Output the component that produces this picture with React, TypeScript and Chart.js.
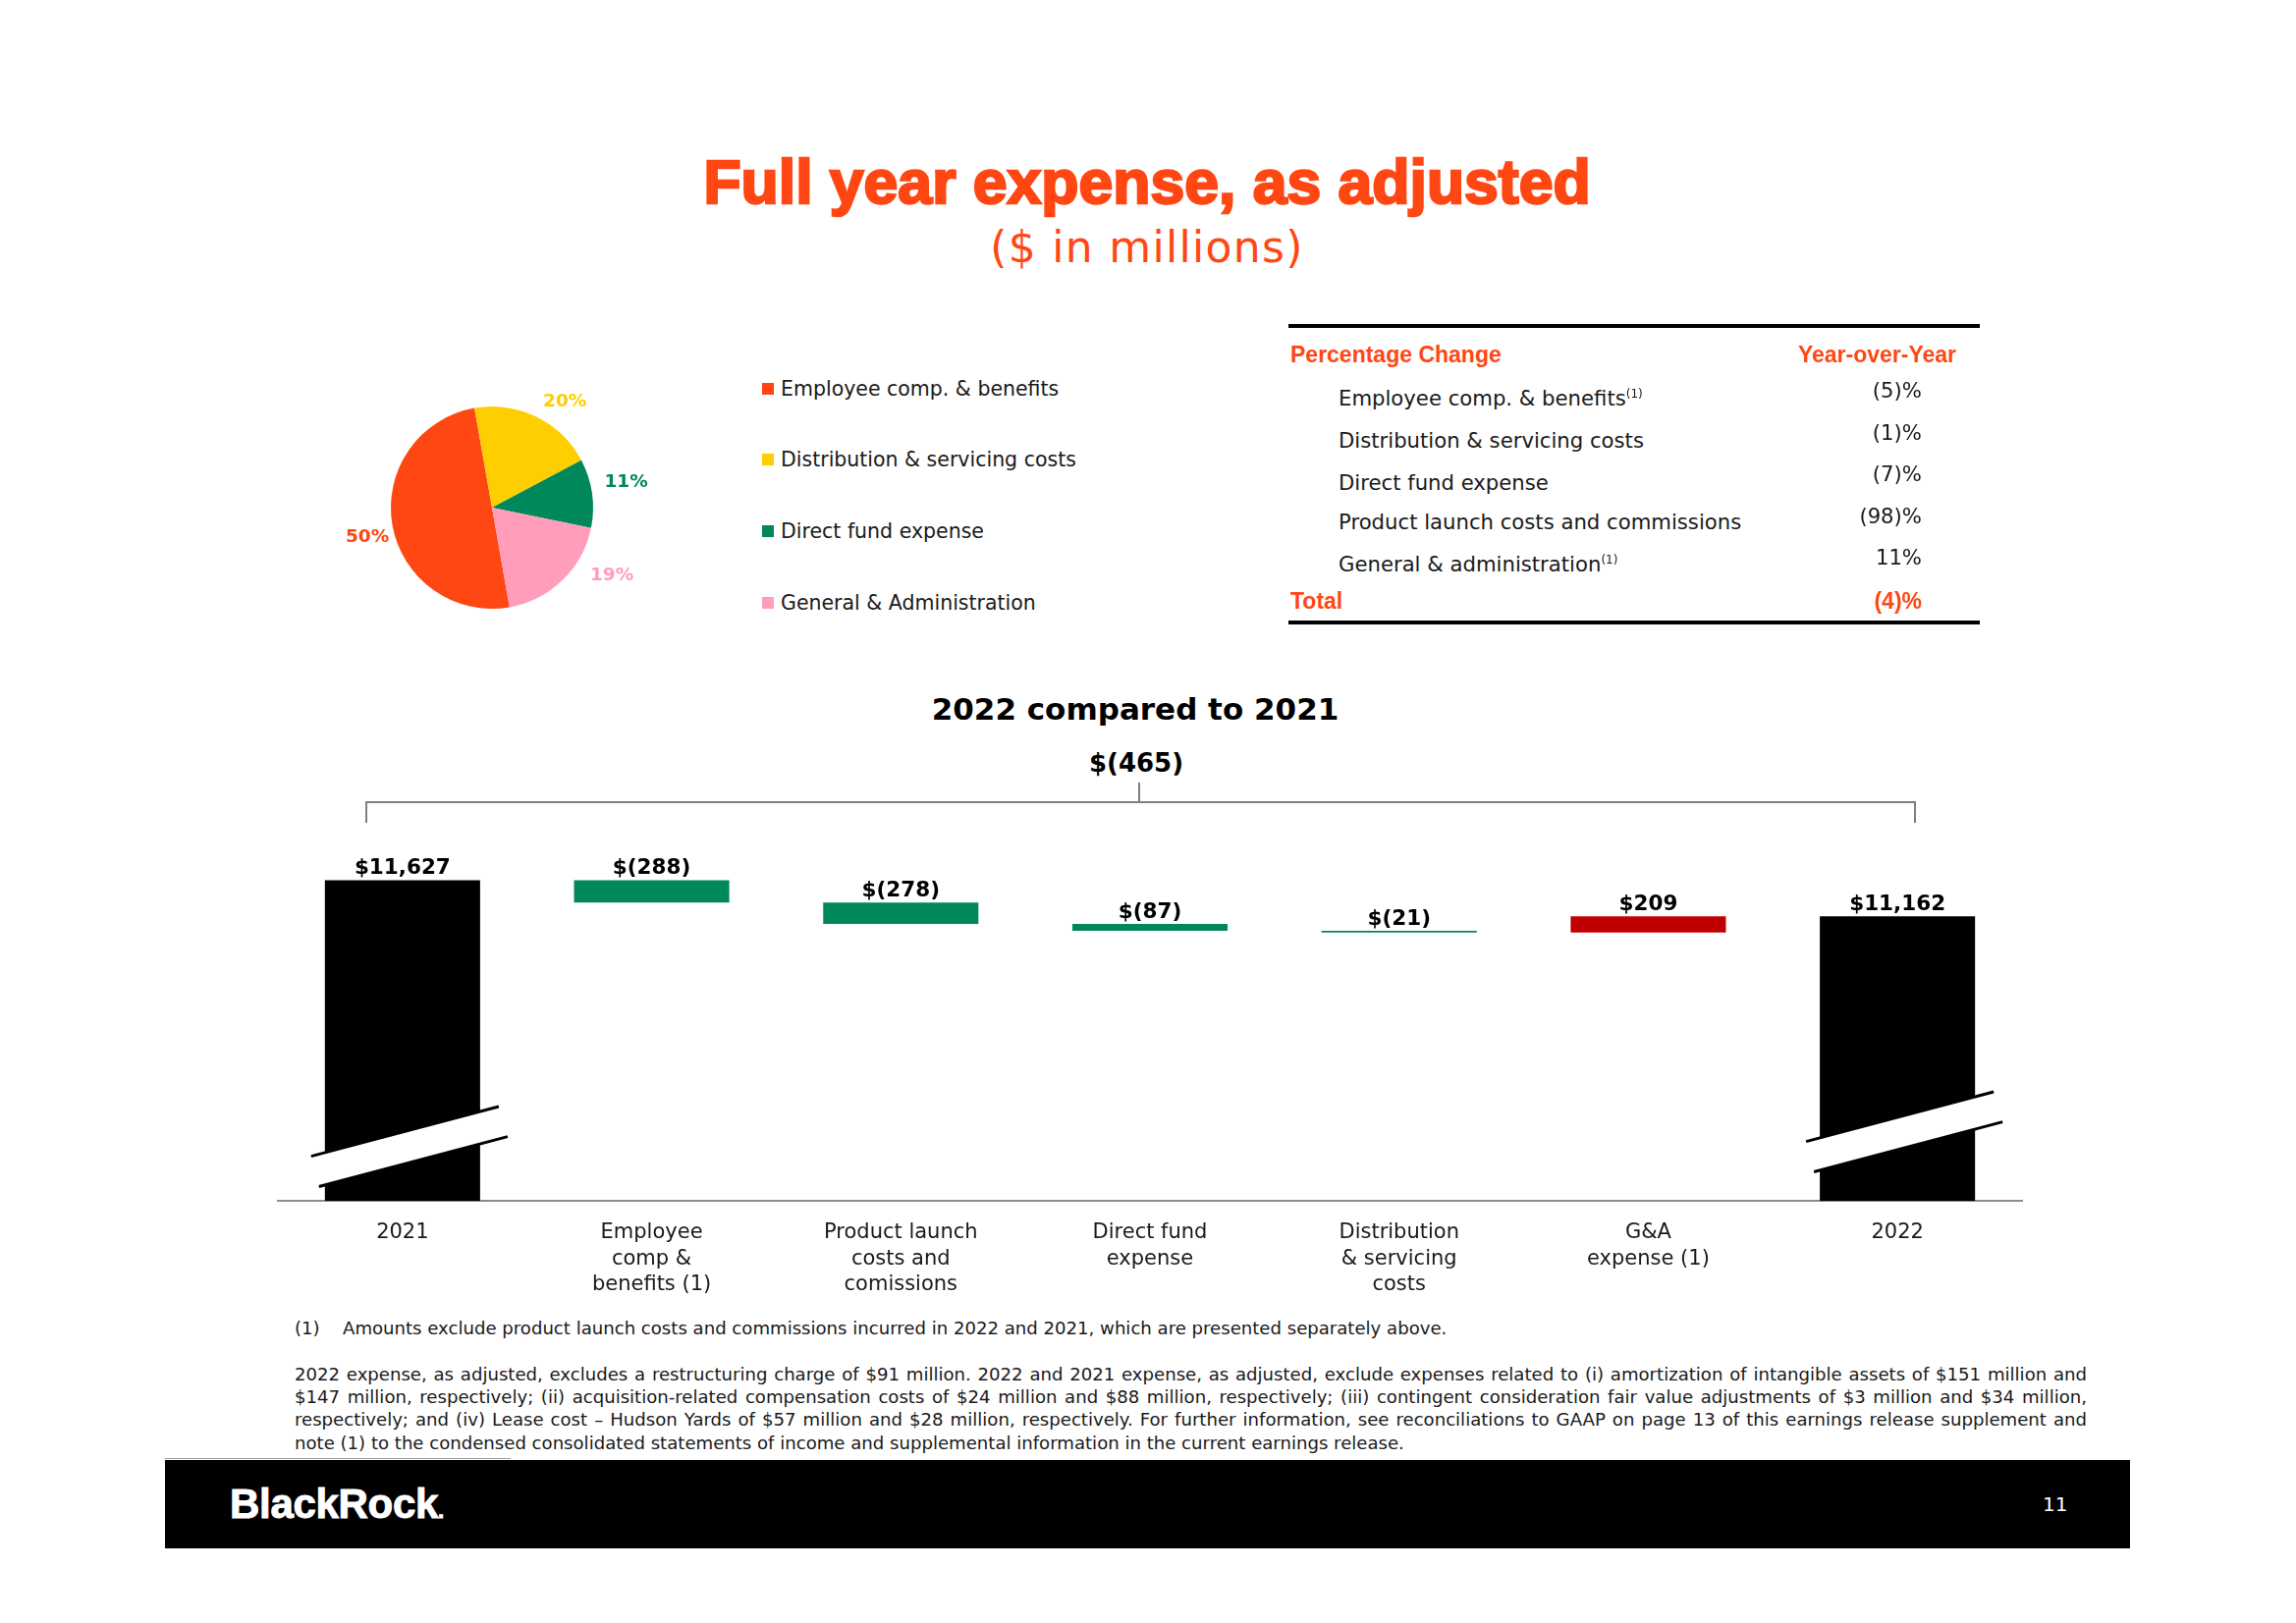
import React, { useEffect, useRef } from "react";
import { Chart, registerables } from "chart.js";

Chart.register(...registerables);

// ---------- data ----------
const ORANGE = "#FF4713";
const GREEN = "#00875A";
const RED = "#C00000";

const PIE_LABELS = [
  "Employee comp. & benefits",
  "Distribution & servicing costs",
  "Direct fund expense",
  "General & Administration",
];
const PIE_VALUES = [50, 20, 11, 19];
const PIE_COLORS = [ORANGE, "#FFCE00", GREEN, "#FF9DBA"];

const TABLE_ITEMS = [
  "Employee comp. & benefits",
  "Distribution & servicing costs",
  "Direct fund expense",
  "Product launch costs and commissions",
  "General & administration",
];
const TABLE_NOTES = [true, false, false, false, true];
const TABLE_VALUES = ["(5)%", "(1)%", "(7)%", "(98)%", "11%"];
const TABLE_TOTAL = "(4)%";

const WF_CATEGORIES: (string | string[])[] = [
  "2021",
  ["Employee", "comp &", "benefits (1)"],
  ["Product launch", "costs and", "comissions"],
  ["Direct fund", "expense"],
  ["Distribution", "& servicing", "costs"],
  ["G&A", "expense (1)"],
  "2022",
];
const WF_START = 11627;
const WF_CHANGES = [-288, -278, -87, -21, 209];
const WF_END = 11162;
const WF_NET = "$(465)";
const Y_MIN = 7490;
const Y_MAX = 12000;

const FOOTNOTE_1 =
  "Amounts exclude product launch costs and commissions incurred in 2022 and 2021, which are presented separately above.";
const FOOTNOTE_LINES = [
  "2022 expense, as adjusted, excludes a restructuring charge of $91 million. 2022 and 2021 expense, as adjusted, exclude expenses related to (i) amortization of intangible assets of $151 million and",
  "$147 million, respectively; (ii) acquisition-related compensation costs of $24 million and $88 million, respectively; (iii) contingent consideration fair value adjustments of $3 million and $34 million,",
  "respectively; and (iv) Lease cost \u2013 Hudson Yards of $57 million and $28 million, respectively. For further information, see reconciliations to GAAP on page 13 of this earnings release supplement and",
  "note (1) to the condensed consolidated statements of income and supplemental information in the current earnings release.",
];

// ---------- helpers ----------
const BODY = '"DejaVu Sans", sans-serif';
const ARIAL = '"Liberation Sans", Arial, sans-serif';
const FOOT_SIZE = 18.1;
const FOOT_WIDTH = 1825;

const fmt = (v: number) =>
  v < 0 ? `$(${Math.abs(v).toLocaleString("en-US")})` : `$${v.toLocaleString("en-US")}`;

let measureCtx: CanvasRenderingContext2D | null = null;
function textWidth(text: string, font: string) {
  if (!measureCtx) measureCtx = document.createElement("canvas").getContext("2d");
  if (!measureCtx) return 0;
  measureCtx.font = font;
  return measureCtx.measureText(text).width;
}

type TProps = {
  x: number;
  y: number;
  size: number;
  children: React.ReactNode;
  family?: string;
  weight?: number | string;
  color?: string;
  align?: "left" | "right" | "center";
  extra?: React.CSSProperties;
};
function T({ x, y, size, children, family = BODY, weight = 400, color = "#1a1a1a", align = "left", extra }: TProps) {
  const style: React.CSSProperties = {
    position: "absolute",
    top: y - 0.485 * size,
    fontFamily: family,
    fontWeight: weight as any,
    fontSize: size,
    lineHeight: `${size}px`,
    color,
    whiteSpace: "nowrap",
    ...extra,
  };
  if (align === "left") style.left = x;
  else if (align === "right") {
    style.left = x - 2000;
    style.width = 2000;
    style.textAlign = "right";
  } else {
    style.left = x - 1000;
    style.width = 2000;
    style.textAlign = "center";
  }
  return <div style={style}>{children}</div>;
}

// ---------- pie ----------
const PIE_LABEL_NUDGE = [
  [6, 7],
  [15, 14],
  [3, -7],
  [28, -28],
];

function PieChart() {
  const ref = useRef<HTMLCanvasElement>(null);
  useEffect(() => {
    const labelPlugin = {
      id: "pieLabels",
      afterDatasetsDraw(chart: any) {
        const ctx = chart.ctx;
        const meta = chart.getDatasetMeta(0);
        ctx.save();
        ctx.font = `bold 18.5px ${BODY}`;
        ctx.textAlign = "center";
        ctx.textBaseline = "middle";
        meta.data.forEach((arc: any, i: number) => {
          const p = arc.getProps(["x", "y", "startAngle", "endAngle", "outerRadius"], true);
          const mid = (p.startAngle + p.endAngle) / 2;
          const r = p.outerRadius + 32;
          ctx.fillStyle = PIE_COLORS[i];
          ctx.fillText(
            `${PIE_VALUES[i]}%`,
            p.x + Math.cos(mid) * r + PIE_LABEL_NUDGE[i][0],
            p.y + Math.sin(mid) * r + PIE_LABEL_NUDGE[i][1]
          );
        });
        ctx.restore();
      },
    };
    const chart = new Chart(ref.current!, {
      type: "pie",
      data: {
        labels: PIE_LABELS,
        datasets: [{ data: PIE_VALUES, backgroundColor: PIE_COLORS, borderWidth: 0 }],
      },
      options: {
        responsive: false,
        animation: false,
        rotation: 170,
        layout: { padding: { left: 97, right: 97, top: 47, bottom: 47 } },
        plugins: { legend: { display: false }, tooltip: { enabled: false } },
      },
      plugins: [labelPlugin],
    } as any);
    return () => chart.destroy();
  }, []);
  return (
    <canvas
      ref={ref}
      width={400}
      height={300}
      style={{ position: "absolute", left: 301, top: 367, width: 400, height: 300 }}
    />
  );
}

// ---------- waterfall ----------
function Waterfall() {
  const ref = useRef<HTMLCanvasElement>(null);
  useEffect(() => {
    const ranges: [number, number][] = [[Y_MIN, WF_START]];
    let run = WF_START;
    const colors: string[] = ["#000000"];
    for (const c of WF_CHANGES) {
      const next = run + c;
      ranges.push([Math.min(run, next), Math.max(run, next)]);
      colors.push(c < 0 ? GREEN : RED);
      run = next;
    }
    ranges.push([Y_MIN, WF_END]);
    colors.push("#000000");
    const labels = [WF_START, ...WF_CHANGES, WF_END].map(fmt);

    const valuePlugin = {
      id: "values",
      afterDatasetsDraw(chart: any) {
        const ctx = chart.ctx;
        const meta = chart.getDatasetMeta(0);
        ctx.save();
        ctx.font = `bold 21.5px ${BODY}`;
        ctx.textAlign = "center";
        ctx.textBaseline = "alphabetic";
        ctx.fillStyle = "#000";
        meta.data.forEach((bar: any, i: number) => {
          const p = bar.getProps(["x", "y", "base"], true);
          ctx.fillText(labels[i], p.x, Math.min(p.y, p.base) - 6);
        });
        ctx.restore();
      },
    };

    const breakPlugin = {
      id: "axisBreak",
      afterDatasetsDraw(chart: any) {
        const ctx = chart.ctx;
        const meta = chart.getDatasetMeta(0);
        const axisY = chart.chartArea.bottom;
        const idx = [0, meta.data.length - 1];
        const heights = [70, 85];
        const slope = 0.265;
        const gap = 33;
        ctx.save();
        idx.forEach((i, k) => {
          const p = meta.data[i].getProps(["x", "width"], true);
          const L = p.x - p.width / 2;
          const R = p.x + p.width / 2;
          const yc = axisY - heights[k];
          const yU = (x: number) => yc - slope * (x - p.x);
          const yL = (x: number) => yc + gap - slope * (x - p.x);
          const u1 = L - 14, u2 = R + 19, l1 = L - 6, l2 = R + 28;
          ctx.fillStyle = "#ffffff";
          ctx.beginPath();
          ctx.moveTo(u1, yU(u1));
          ctx.lineTo(u2, yU(u2));
          ctx.lineTo(l2, yL(l2));
          ctx.lineTo(l1, yL(l1));
          ctx.closePath();
          ctx.fill();
          ctx.strokeStyle = "#000";
          ctx.lineWidth = 3;
          ctx.beginPath();
          ctx.moveTo(u1, yU(u1));
          ctx.lineTo(u2, yU(u2));
          ctx.moveTo(l1, yL(l1));
          ctx.lineTo(l2, yL(l2));
          ctx.stroke();
        });
        ctx.restore();
      },
    };

    const chart = new Chart(ref.current!, {
      type: "bar",
      data: {
        labels: WF_CATEGORIES,
        datasets: [
          {
            data: ranges,
            backgroundColor: colors,
            borderWidth: 0,
            barPercentage: 0.623,
            categoryPercentage: 1,
          },
        ],
      },
      options: {
        responsive: false,
        animation: false,
        layout: { padding: { left: 20, right: 20, top: 47, bottom: 0 } },
        plugins: { legend: { display: false }, tooltip: { enabled: false } },
        scales: {
          x: {
            grid: { display: false, drawTicks: false },
            border: { display: true, color: "#8c8c8c", width: 2 },
            ticks: {
              color: "#1a1a1a",
              font: { family: "DejaVu Sans", size: 21, lineHeight: 1.24 },
              padding: 20,
              autoSkip: false,
              maxRotation: 0,
              minRotation: 0,
            },
            afterFit: (s: any) => {
              s.height = 110;
            },
          },
          y: { display: false, min: Y_MIN, max: Y_MAX },
        },
      },
      plugins: [valuePlugin, breakPlugin],
    } as any);
    return () => chart.destroy();
  }, []);
  return (
    <canvas
      ref={ref}
      width={1816}
      height={513}
      style={{ position: "absolute", left: 263, top: 820, width: 1816, height: 513 }}
    />
  );
}

// ---------- page ----------
export default function App() {
  useEffect(() => {
    document.body.style.margin = "0";
  }, []);
  const legendBaselines = [403, 475, 548, 621];
  const rowCenters = [405, 448, 491, 531, 574];
  const valCenters = [397, 440, 482, 525, 567];
  const footY = [1400, 1423, 1446, 1470];
  const footFont = `${FOOT_SIZE}px "DejaVu Sans"`;
  return (
    <div
      style={{
        position: "absolute",
        left: 0,
        top: 0,
        width: 2338,
        height: 1653,
        background: "#fff",
        overflow: "hidden",
      }}
    >
      {/* titles */}
      <T x={1168} y={184.5} size={62.5} family={ARIAL} weight={700} color={ORANGE} align="center"
        extra={{ WebkitTextStroke: `2.5px ${ORANGE}` } as any}>
        Full year expense, as adjusted
      </T>
      <T x={1168} y={251} size={44} weight={400} color={ORANGE} align="center" extra={{ letterSpacing: 1.3 }}>
        ($ in millions)
      </T>

      {/* pie + legend */}
      <PieChart />
      {PIE_LABELS.map((l, i) => (
        <React.Fragment key={l}>
          <div
            style={{
              position: "absolute",
              left: 776,
              top: legendBaselines[i] - 13,
              width: 12,
              height: 12,
              background: PIE_COLORS[i],
            }}
          />
          <T x={795} y={legendBaselines[i] - 7.4} size={20.5}>
            {l}
          </T>
        </React.Fragment>
      ))}

      {/* table */}
      <div style={{ position: "absolute", left: 1312, top: 330, width: 704, height: 4, background: "#000" }} />
      <div style={{ position: "absolute", left: 1312, top: 632, width: 704, height: 4, background: "#000" }} />
      <T x={1314} y={361} size={23} family={ARIAL} weight={700} color={ORANGE}>
        Percentage Change
      </T>
      <T x={1992} y={361} size={23} family={ARIAL} weight={700} color={ORANGE} align="right">
        Year-over-Year
      </T>
      {TABLE_ITEMS.map((t, i) => (
        <React.Fragment key={t}>
          <T x={1363} y={rowCenters[i]} size={21.2}>
            {t}
            {TABLE_NOTES[i] ? (
              <span style={{ fontSize: 12, position: "relative", top: -8 }}>(1)</span>
            ) : null}
          </T>
          <T x={1957} y={valCenters[i]} size={21.2} align="right">
            {TABLE_VALUES[i]}
          </T>
        </React.Fragment>
      ))}
      <T x={1314} y={612} size={23} family={ARIAL} weight={700} color={ORANGE}>
        Total
      </T>
      <T x={1957} y={612} size={23} family={ARIAL} weight={700} color={ORANGE} align="right">
        {TABLE_TOTAL}
      </T>

      {/* waterfall headings + bracket */}
      <T x={1156} y={722} size={31} weight={700} color="#000" align="center">
        2022 compared to 2021
      </T>
      <T x={1157} y={776.5} size={26} weight={700} color="#000" align="center">
        {WF_NET}
      </T>
      <div style={{ position: "absolute", left: 372, top: 816, width: 1579, height: 2, background: "#7f7f7f" }} />
      <div style={{ position: "absolute", left: 372, top: 816, width: 2, height: 22, background: "#7f7f7f" }} />
      <div style={{ position: "absolute", left: 1949, top: 816, width: 2, height: 22, background: "#7f7f7f" }} />
      <div style={{ position: "absolute", left: 1159, top: 797, width: 2, height: 20, background: "#7f7f7f" }} />

      <Waterfall />

      {/* footnotes */}
      <T x={300} y={1353} size={FOOT_SIZE}>(1)</T>
      <T x={349} y={1353} size={FOOT_SIZE}>{FOOTNOTE_1}</T>
      {FOOTNOTE_LINES.map((l, i) => {
        const justified = i < FOOTNOTE_LINES.length - 1;
        let ls = 0;
        if (justified) {
          const w = textWidth(l, footFont);
          if (w > FOOT_WIDTH - 20) ls = (FOOT_WIDTH - 20 - w) / l.length;
        }
        return (
          <T
            key={i}
            x={300}
            y={footY[i]}
            size={FOOT_SIZE}
            extra={
              justified
                ? ({ width: FOOT_WIDTH, textAlign: "justify", textAlignLast: "justify", letterSpacing: ls } as any)
                : undefined
            }
          >
            {l}
          </T>
        );
      })}

      {/* footer */}
      <div style={{ position: "absolute", left: 168, top: 1485, width: 352, height: 1, background: "#9a9a9a" }} />
      <div style={{ position: "absolute", left: 168, top: 1487, width: 2001, height: 90, background: "#000" }} />
      <T x={234} y={1531.5} size={42} family={ARIAL} weight={700} color="#fff"
        extra={{ letterSpacing: -0.3, WebkitTextStroke: "1px #fff" } as any}>
        BlackRock<span style={{ fontSize: 22 }}>.</span>
      </T>
      <T x={2080} y={1532} size={20} color="#fff">
        11
      </T>
    </div>
  );
}
